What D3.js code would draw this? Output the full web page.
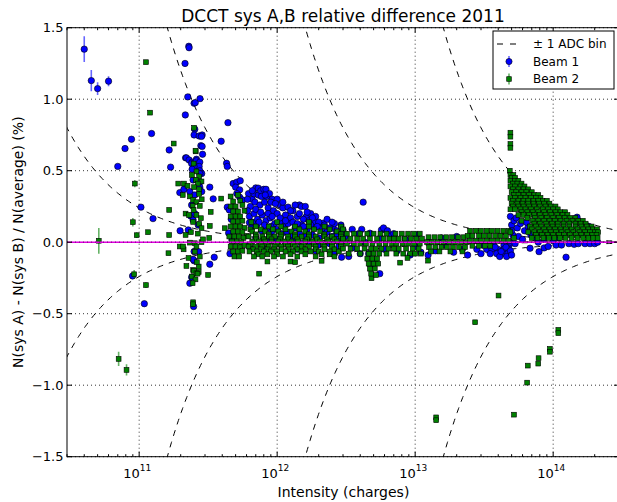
<!DOCTYPE html>
<html>
<head>
<meta charset="utf-8">
<script src="https://cdn.jsdelivr.net/npm/d3@7"></script>
<style>
body { margin: 0; background: #fff; }
text { font-family: "DejaVu Sans", sans-serif; fill: #000; }
</style>
</head>
<body>
<script>
// ADC bin size of each DCCT range, in charges (curve = +/- 100*bin/I)
var adcBins = [2.4e8, 2.4e9, 2.4e10, 2.4e11];

var xTicks = [1e11, 1e12, 1e13, 1e14];
var xTickExp = ['11', '12', '13', '14'];
var yTicks = [-1.5, -1.0, -0.5, 0.0, 0.5, 1.0, 1.5];

// [intensity (charges), relative difference (%), error (%)]
var b1Sparse = [
	[4.0e10,1.35,0.09],[4.5e10,1.13,0.075],[5.0e10,1.074,0.045],[6.0e10,1.126,0.035],
	[7.0e10,0.53],[7.9e10,0.655],[8.8e10,0.72],[8.96e10,-0.236],[1.03e11,0.245],[1.09e11,-0.43],
	[1.23e11,0.76],[1.26e11,0.165],[1.65e11,0.645],[1.69e11,0.525],[1.97e11,0.347],[1.98e11,0.08],
	[3.25e11,0.385],[3.44e11,0.303],[3.5e11,-0.105],[3.25e11,-0.154],[3.93e11,0.706],[4.3e11,0.552],
	[4.35e11,0.53],[4.4e11,0.836],[4.2e12,0.28]
];
var b1Blob = [
	[2.15e11,1.25],[2.29e11,1.37],[2.3e11,1.36],[2.16e11,0.89],[2.25e11,1.016],[2.5e11,0.972],[2.55e11,0.976],[2.76e11,1.004],
	[2.53e11,0.79],[2.5e11,0.75],[2.72e11,0.743],[2.86e11,0.75],[2.83e11,0.74],[2.8e11,0.675],[2.86e11,0.67],[2.88e11,0.615],
	[2.17e11,0.59],[2.2e11,0.59],[2.3e11,0.575],[2.42e11,0.56],[2.4e11,0.55],[2.6e11,0.58],[2.6e11,0.57],[2.75e11,0.56],
	[2.72e11,0.53],[2.5e11,0.53],[2.42e11,0.51],[2.75e11,0.5],[2.84e11,0.48],[2.75e11,0.48],[2.46e11,0.435],[2.75e11,0.42],
	[2.84e11,0.354],[2.11e11,0.37],[2.33e11,0.354],[2.53e11,0.33],[2.75e11,0.385],[2.4e11,0.26],[2.36e11,0.184],[2.53e11,0.2],
	[2.46e11,0.155],[2.68e11,0.12],[2.27e11,0.086],[2.33e11,-0.287],[2.4e11,-0.245],[2.48e11,-0.45],[2.5e11,-0.065],
	[2.5e11,-0.13],[2.7e11,-0.066],[2.46e11,-0.12]
];
var b1Mid = [
	[4.8e11,0.41],[5.1e11,0.42],[5.4e11,0.43],[5.0e11,0.385],[5.35e11,0.366],[5.1e11,0.34],[5.35e11,0.315],[5.6e11,0.296],
	[4.35e11,0.245],[4.5e11,0.226],[4.65e11,0.16],[6.3e11,0.137],[6.27e11,-0.026],[4.55e11,-0.08],[4.45e11,0.065],[4.7e11,0.016],
	[6.2e11,0.34],[6.6e11,0.3],[6.8e11,0.338],[7.0e11,0.38],[7.3e11,0.378],[7.3e11,0.33],[7.6e11,0.36],[8.0e11,0.37],
	[8.3e11,0.37],[8.4e11,0.32],[8.8e11,0.34],[9.2e11,0.3],[1.0e12,0.3],[1.05e12,0.26],[1.1e12,0.24],[1.2e12,0.245],
	[1.3e12,0.22],[1.45e12,0.26],[1.5e12,0.25],[1.6e12,0.25],[1.6e12,0.168],[1.63e12,0.18],[1.75e12,0.2],[1.87e12,0.144],
	[1.9e12,0.18],[2.15e12,0.133],[6.4e11,0.25],[6.9e11,0.28],[7.5e11,0.26],[8.1e11,0.28],[8.6e11,0.24],[9.4e11,0.22],
	[1.0e12,0.2],[1.15e12,0.19],[1.25e12,0.17],[1.4e12,0.18],[1.55e12,0.16],[1.7e12,0.15],[2.0e12,0.14],[2.3e12,0.16],
	[2.55e12,0.098],[2.6e12,0.13],[2.9e12,0.12],[3.0e12,0.086],[3.5e12,0.09],[4.1e12,0.09],[4.7e12,0.063],[5.7e12,0.086],
	[1.02e13,0.051],[6.3e11,0.18],[6.8e11,0.2],[7.2e11,0.16],[7.8e11,0.19],[8.3e11,0.15],[8.9e11,0.17],[9.6e11,0.13],
	[1.05e12,0.14],[1.12e12,0.11],[1.2e12,0.13],[1.35e12,0.1],[1.5e12,0.12],[1.65e12,0.09],[1.85e12,0.1],[2.1e12,0.09],
	[2.4e12,0.1],[2.7e12,0.08],[6.5e11,0.1],[7.1e11,0.12],[7.7e11,0.08],[8.5e11,0.1],[9.1e11,0.07],[9.9e11,0.09],
	[1.08e12,0.06],[1.18e12,0.07],[1.3e12,0.05],[1.45e12,0.06],[1.6e12,0.04],[1.8e12,0.05],[2.0e12,0.03],[2.2e12,0.05],
	[2.5e12,0.04],[2.8e12,0.03],[7.0e11,0.03],[8.0e11,0.02],[9.0e11,0.01],[1.0e12,0.02],[1.15e12,0.0],[1.3e12,0.01],
	[1.5e12,-0.01],[1.7e12,0.0],[2.0e12,-0.02],[2.4e12,-0.01],[2.8e12,-0.03],[1.4e12,-0.05],[1.9e12,-0.06],[2.6e12,-0.08],
	[2.93e12,-0.105],[8.0e11,-0.04],
	[6.1e11,0.3],[6.6e11,0.36],[7.7e11,0.32],[8.2e11,0.33],[9.0e11,0.28],[9.7e11,0.27],[1.1e12,0.28],[1.25e12,0.22],
	[1.35e12,0.26],[1.45e12,0.2],[1.65e12,0.21],[1.8e12,0.17],[2.2e12,0.12],[2.5e12,0.14],[7.0e11,0.23],[7.6e11,0.21],
	[8.6e11,0.2],[9.2e11,0.18],[1.05e12,0.17],[1.15e12,0.15],[1.3e12,0.14],[1.4e12,0.13],[1.55e12,0.11],[1.75e12,0.12],
	[1.95e12,0.11],[2.3e12,0.07],[2.7e12,0.06],[6.6e11,0.14],[7.4e11,0.14],[8.1e11,0.12],[9.0e11,0.11],[6.1e11,0.22]
];
var b1Band = [
	[3.1e12,0.04],[3.5e12,-0.04],[3.9e12,0.06],[4.3e12,0.0],[4.6e12,-0.08],[4.8e12,-0.16],[5.1e12,-0.14],[5.54e12,-0.22],
	[5.6e12,0.03],[6.0e12,-0.05],[6.6e12,0.05],[4.0e12,-0.08],[3.3e12,-0.1],[5.9e12,0.1],[6.3e12,0.08],[7.0e12,0.06],
	[7.4e12,-0.06],[8.5e12,0.02],[9.2e12,-0.09],[1.0e13,-0.03],[1.1e13,-0.07],[1.24e13,-0.09],[1.4e13,-0.06],[1.65e13,-0.02],
	[1.9e13,-0.07],[2.2e13,-0.05],[2.0e13,0.04],[1.55e13,0.03],[2.4e13,-0.09],[3.1e13,-0.02],[3.7e13,-0.02],[4.4e13,-0.02],
	[4.8e13,-0.02],[2.8e13,-0.05],[3.3e13,-0.05],[3.6e13,-0.05],[4.0e13,-0.05],[4.4e13,-0.05],[4.75e13,-0.05],[3.0e13,-0.08],
	[3.5e13,-0.08],[3.9e13,-0.08],[4.3e13,-0.08],[4.7e13,-0.08],[4.1e13,-0.1],[4.6e13,-0.1],[3.8e13,-0.035],[4.2e13,-0.065],
	[4.55e13,-0.035]
];
var b1High = [
	[4.9e13,0.18],[5.0e13,0.12],[5.2e13,0.15],[5.5e13,0.1],[5.8e13,0.13],[6.2e13,0.08],[6.6e13,0.11],[5.1e13,0.05],
	[5.6e13,0.04],[6.0e13,0.02],[6.9e13,0.05],[7.4e13,0.03],[8.0e13,0.06],[8.6e13,0.02],[9.3e13,0.04],[1.0e14,0.01],
	[1.1e14,0.03],[4.9e13,0.0],[5.3e13,-0.01],[7.8e13,0.0],[5.0e13,0.08],[5.4e13,0.17],[6.4e13,0.14],[4.9e13,-0.06],
	[5.0e13,-0.09],[1.49e14,0.175],[1.82e14,0.11],[2.05e14,0.07],[6.8e13,-0.042],[7.9e13,-0.066],[8.6e13,-0.04],
	[9.2e13,-0.03],[1.05e14,-0.02],[1.15e14,-0.02],[1.24e14,-0.105],[1.3e14,-0.01],[1.42e14,-0.015],[1.52e14,-0.01],
	[1.7e14,-0.01],[1.85e14,-0.01],[2.0e14,-0.01],[2.1e14,0.0]
];

var b2Sparse = [
	[5.1e10,0.01,0.09],[7.1e10,-0.816,0.05],[8.1e10,-0.893,0.04],[9.0e10,0.14,0.03],[9.2e10,-0.224,0.03],[9.3e10,0.41,0.025],
	[9.6e10,0.049,0.02],[1.12e11,1.259,0.015],[1.12e11,-0.3,0.02],[1.16e11,0.07,0.015],[1.2e11,0.906,0.01],[1.63e11,-0.077],
	[1.65e11,0.05],[1.65e11,0.226],[1.78e11,0.69],[1.92e11,0.41],[1.97e11,-0.03],[2.1e11,-0.05],[3.16e11,-0.229],
	[3.3e11,0.212],[3.25e11,0.114],[3.22e11,0.03],[3.93e11,0.305],[4.17e11,0.098],[6.0e11,0.044],[7.4e11,-0.22],
	[4.02e13,-0.373],[2.72e13,-0.56],[1.42e13,-1.225],[1.42e13,-1.245],[5.2e13,-1.206],[6.55e13,-0.863],[6.48e13,-0.982],
	[7.84e13,-0.811],[7.8e13,-0.849],[9.46e13,-0.746],[9.46e13,-0.766],[1.09e14,-0.613],[1.09e14,-0.636],[4.83e12,-0.252],
	[7.78e12,-0.143],[1.24e13,-0.129],[4.9e13,0.766],[4.9e13,0.738],[4.9e13,0.687],[4.9e13,0.66]
];
var b2Blob = [
	[2.5e11,0.8],[2.57e11,0.635],[2.56e11,0.64],[2.48e11,0.55],[2.6e11,0.495],[2.72e11,0.46],[2.57e11,0.435],[2.83e11,0.425],
	[2.41e11,0.47],[2.66e11,0.41],[2.11e11,0.41],[2.24e11,0.395],[2.5e11,0.385],[2.72e11,0.37],[2.07e11,0.33],[2.33e11,0.32],
	[2.46e11,0.296],[2.72e11,0.338],[2.84e11,0.3],[2.6e11,0.28],[2.44e11,0.254],[2.75e11,0.254],[2.17e11,0.2],[2.48e11,0.226],
	[2.6e11,0.19],[2.3e11,0.19],[2.8e11,0.168],[2.46e11,0.142],[2.72e11,0.128],[2.83e11,0.098],[2.37e11,0.07],[2.66e11,0.06],
	[2.17e11,0.051],[2.33e11,-0.003],[2.53e11,-0.007],[2.83e11,0.0],[2.08e11,-0.03],[2.6e11,-0.03],[2.53e11,-0.066],
	[2.28e11,-0.11],[2.75e11,-0.1],[2.2e11,-0.166],[2.46e11,-0.194],[2.7e11,-0.17],[2.7e11,-0.208],[2.41e11,-0.24],
	[2.5e11,-0.2],[2.6e11,-0.217],[2.56e11,-0.26],[2.65e11,-0.22],[2.62e11,-0.14],[2.44e11,-0.287],[2.46e11,-0.42],
	[2.46e11,-0.434],[2.9e11,0.02]
];
var b2Column = [
	[4.6e11,0.32],[5.2e11,0.33],[4.8e11,0.285],[5.4e11,0.29],[4.6e11,0.25],[5.0e11,0.25],[5.6e11,0.26],[4.8e11,0.215],
	[5.2e11,0.215],[5.8e11,0.22],[4.6e11,0.18],[5.0e11,0.18],[5.4e11,0.18],[4.8e11,0.145],[5.2e11,0.145],[5.6e11,0.15],
	[4.6e11,0.11],[5.0e11,0.11],[5.4e11,0.11],[5.8e11,0.1],[4.8e11,0.075],[5.2e11,0.075],[5.6e11,0.07],[4.5e11,0.04],
	[4.9e11,0.04],[5.3e11,0.04],[5.7e11,0.03],[4.7e11,0.005],[5.1e11,0.005],[5.5e11,0.0],[4.6e11,-0.03],[5.0e11,-0.03],
	[5.4e11,-0.035],[5.8e11,-0.02],[4.8e11,-0.065],[5.2e11,-0.065],[5.6e11,-0.06],[4.9e11,-0.1],[5.3e11,-0.1]
];
var b2Band1 = [
	[6.5e11,0.14],[1.0e12,0.14],[1.7e12,0.14],
	[7.0e11,0.11],[8.7e11,0.11],[1.07e12,0.11],[1.35e12,0.11],[1.7e12,0.11],[2.2e12,0.11],[2.9e12,0.11],
	[6.4e11,0.09],[7.6e11,0.09],[9.3e11,0.09],[1.15e12,0.09],[1.45e12,0.09],[1.85e12,0.09],[2.4e12,0.09],[3.0e12,0.09],
	[6.6e11,0.075],[8.2e11,0.075],[1.02e12,0.075],[1.27e12,0.075],[1.6e12,0.075],[2.05e12,0.075],[2.7e12,0.075],
	[7.0e11,0.055],[8.7e11,0.055],[1.07e12,0.055],[1.35e12,0.055],[1.7e12,0.055],[2.2e12,0.055],[2.9e12,0.055],
	[6.2e11,0.04],[7.0e11,0.04],[7.8e11,0.04],[8.7e11,0.04],[9.6e11,0.04],[1.07e12,0.04],[1.2e12,0.04],[1.35e12,0.04],
	[1.5e12,0.04],[1.7e12,0.04],[1.9e12,0.04],[2.2e12,0.04],[2.5e12,0.04],[2.9e12,0.04],
	[7.0e11,0.02],[8.0e11,0.02],[9.1e11,0.02],[1.05e12,0.02],[1.2e12,0.02],[1.4e12,0.02],[1.65e12,0.02],[1.95e12,0.02],
	[2.3e12,0.02],[2.6e12,0.02],[3.0e12,0.02],
	[6.6e11,0.005],[7.4e11,0.005],[8.2e11,0.005],[9.1e11,0.005],[1.02e12,0.005],[1.13e12,0.005],[1.27e12,0.005],
	[1.42e12,0.005],[1.6e12,0.005],[1.8e12,0.005],[2.05e12,0.005],[2.35e12,0.005],[2.7e12,0.005],[3.1e12,0.005],
	[6.4e11,-0.015],[7.6e11,-0.015],[8.5e11,-0.015],[1.0e12,-0.015],[1.15e12,-0.015],[1.3e12,-0.015],[1.55e12,-0.015],
	[1.85e12,-0.015],[2.15e12,-0.015],[2.5e12,-0.015],[2.9e12,-0.015],
	[6.2e11,-0.03],[7.0e11,-0.03],[7.8e11,-0.03],[8.7e11,-0.03],[9.6e11,-0.03],[1.07e12,-0.03],[1.2e12,-0.03],[1.35e12,-0.03],
	[1.5e12,-0.03],[1.7e12,-0.03],[1.9e12,-0.03],[2.2e12,-0.03],[2.5e12,-0.03],[2.9e12,-0.03],
	[6.7e11,-0.05],[7.6e11,-0.05],[8.5e11,-0.05],[9.5e11,-0.05],[1.08e12,-0.05],[1.22e12,-0.05],[1.4e12,-0.05],
	[1.6e12,-0.05],[1.9e12,-0.05],[2.2e12,-0.05],[2.6e12,-0.05],
	[6.3e11,-0.065],[7.1e11,-0.065],[8.0e11,-0.065],[9.0e11,-0.065],[1.0e12,-0.065],[1.15e12,-0.065],[1.3e12,-0.065],
	[1.5e12,-0.065],[1.75e12,-0.065],[2.0e12,-0.065],[2.4e12,-0.065],[2.8e12,-0.065],
	[7.3e11,-0.085],[8.5e11,-0.085],[1.0e12,-0.085],[1.25e12,-0.085],[1.6e12,-0.085],[2.1e12,-0.085],[2.4e12,-0.085],
	[6.8e11,-0.1],[7.8e11,-0.1],[9.5e11,-0.1],[1.1e12,-0.1],[1.4e12,-0.1],[1.9e12,-0.1],[2.6e12,-0.1],
	[8.5e11,-0.135],[1.25e12,-0.135],[1.35e12,-0.14],[2.1e12,-0.13]
];
var b2Band2 = [
	[3.2e12,0.06],[3.6e12,0.06],[4.0e12,0.06],[4.5e12,0.06],[5.0e12,0.06],[5.6e12,0.06],[6.2e12,0.06],[7.2e12,0.06],
	[8.0e12,0.06],[8.9e12,0.06],[9.8e12,0.06],[1.08e13,0.06],
	[3.0e12,0.025],[3.4e12,0.025],[3.8e12,0.025],[4.2e12,0.025],[4.7e12,0.025],[5.3e12,0.025],[5.9e12,0.025],[6.5e12,0.025],
	[7.0e12,0.025],[7.6e12,0.025],[8.4e12,0.025],[9.3e12,0.025],[1.02e13,0.025],[1.12e13,0.025],
	[3.2e12,-0.01],[3.6e12,-0.01],[4.0e12,-0.01],[4.4e12,-0.01],[4.9e12,-0.01],[5.5e12,-0.01],[6.1e12,-0.01],[6.8e12,-0.01],
	[7.3e12,-0.01],[8.1e12,-0.01],[8.9e12,-0.01],[9.8e12,-0.01],[1.08e13,-0.01],
	[3.0e12,-0.045],[3.4e12,-0.045],[3.8e12,-0.045],[4.3e12,-0.045],[4.8e12,-0.045],[5.2e12,-0.045],[5.7e12,-0.045],
	[6.4e12,-0.045],[7.0e12,-0.045],[7.6e12,-0.045],[8.6e12,-0.045],[9.6e12,-0.045],[1.06e13,-0.045],
	[3.3e12,-0.08],[4.0e12,-0.08],[4.6e12,-0.08],[5.0e12,-0.08],[5.5e12,-0.08],[6.2e12,-0.08],[7.3e12,-0.08],[8.2e12,-0.08],
	[9.2e12,-0.08],[1.0e13,-0.08],[1.1e13,-0.08],
	[4.5e12,-0.115],[4.9e12,-0.115],[5.3e12,-0.115],[8.8e12,-0.11],[4.6e12,-0.15],[5.0e12,-0.15],[5.4e12,-0.15],
	[4.7e12,-0.185],[5.1e12,-0.185],[4.8e12,-0.22],[5.2e12,-0.23]
];
var b2Band3 = [
	[1.25e13,0.035],[1.38e13,0.035],[1.52e13,0.035],[1.68e13,0.035],[1.85e13,0.035],[2.05e13,0.035],[2.25e13,0.035],
	[1.22e13,0.0],[1.32e13,0.0],[1.45e13,0.0],[1.6e13,0.0],[1.76e13,0.0],[1.95e13,0.0],[2.15e13,0.0],[2.38e13,0.0],
	[1.26e13,-0.035],[1.4e13,-0.035],[1.55e13,-0.035],[1.7e13,-0.035],[1.88e13,-0.035],[2.08e13,-0.035],[2.3e13,-0.035],
	[1.3e13,-0.065],[1.5e13,-0.065],[1.8e13,-0.065],[2.2e13,-0.065],
	[2.5e13,0.08],[2.75e13,0.08],[3.0e13,0.08],[3.3e13,0.08],[3.6e13,0.08],[3.95e13,0.08],[4.35e13,0.08],[4.75e13,0.08],
	[2.4e13,0.045],[2.6e13,0.045],[2.9e13,0.045],[3.15e13,0.045],[3.45e13,0.045],[3.8e13,0.045],[4.15e13,0.045],[4.55e13,0.045],
	[2.5e13,0.01],[2.75e13,0.01],[3.0e13,0.01],[3.3e13,0.01],[3.6e13,0.01],[3.95e13,0.01],[4.35e13,0.01],[4.75e13,0.01],
	[2.6e13,-0.025],[2.9e13,-0.025],[3.2e13,-0.025],[3.5e13,-0.025]
];
var b2High = [
	[4.85e13,0.5],[4.9e13,0.47],[5.15e13,0.47],[5.0e13,0.45],[5.3e13,0.45],[4.9e13,0.43],[5.3e13,0.43],[5.6e13,0.43],
	[5.1e13,0.41],[5.5e13,0.41],[5.9e13,0.41],
	[4.9e13,0.39],[5.3e13,0.39],[5.8e13,0.39],[6.2e13,0.39],[5.1e13,0.37],[5.6e13,0.37],[6.1e13,0.37],[6.6e13,0.37],
	[5.0e13,0.35],[5.4e13,0.35],[5.9e13,0.35],[6.4e13,0.35],[7.0e13,0.35],
	[5.2e13,0.33],[5.6e13,0.33],[6.1e13,0.33],[6.7e13,0.33],[7.3e13,0.33],[7.8e13,0.33],
	[4.9e13,0.31],[5.3e13,0.31],[5.8e13,0.31],[6.3e13,0.31],[6.9e13,0.31],[7.5e13,0.31],[8.1e13,0.31],
	[5.1e13,0.29],[5.6e13,0.29],[6.1e13,0.29],[6.6e13,0.29],[7.2e13,0.29],[7.8e13,0.29],[8.4e13,0.29],[9.0e13,0.29],
	[5.0e13,0.27],[5.5e13,0.27],[6.0e13,0.27],[6.6e13,0.27],[7.2e13,0.27],[7.9e13,0.27],[8.6e13,0.27],[9.4e13,0.27],
	[5.1e13,0.25],[5.6e13,0.25],[6.1e13,0.25],[6.7e13,0.25],[7.3e13,0.25],[8.0e13,0.25],[8.8e13,0.25],[9.6e13,0.25],
	[1.04e14,0.25],
	[4.9e13,0.23],[5.3e13,0.23],[5.8e13,0.23],[6.3e13,0.23],[6.9e13,0.23],[7.6e13,0.23],[8.4e13,0.23],[9.2e13,0.23],
	[1.0e14,0.23],[1.08e14,0.23],
	[5.9e13,0.21],[6.5e13,0.21],[7.1e13,0.21],[7.8e13,0.21],[8.6e13,0.21],[9.5e13,0.21],[1.04e14,0.21],[1.13e14,0.21],
	[1.22e14,0.21],
	[5.6e13,0.19],[6.1e13,0.19],[6.7e13,0.19],[7.3e13,0.19],[8.0e13,0.19],[8.8e13,0.19],[9.7e13,0.19],[1.07e14,0.19],
	[1.17e14,0.19],[1.27e14,0.19],
	[6.5e13,0.17],[7.4e13,0.17],[8.2e13,0.17],[9.0e13,0.17],[1.0e14,0.17],[1.1e14,0.17],[1.21e14,0.17],[1.33e14,0.17],
	[1.45e14,0.17],
	[5.9e13,0.15],[7.1e13,0.15],[7.8e13,0.15],[8.6e13,0.15],[9.4e13,0.15],[1.03e14,0.15],[1.13e14,0.15],[1.25e14,0.15],
	[1.38e14,0.15],[1.52e14,0.15],[1.64e14,0.15],
	[7.3e13,0.13],[8.0e13,0.13],[8.9e13,0.13],[9.8e13,0.13],[1.08e14,0.13],[1.19e14,0.13],[1.31e14,0.13],[1.45e14,0.13],
	[1.58e14,0.13],[1.72e14,0.13],
	[6.8e13,0.11],[7.5e13,0.11],[8.2e13,0.11],[9.0e13,0.11],[9.9e13,0.11],[1.08e14,0.11],[1.19e14,0.11],[1.31e14,0.11],
	[1.45e14,0.11],[1.6e14,0.11],[1.75e14,0.11],[1.9e14,0.11],
	[7.0e13,0.09],[7.8e13,0.09],[8.6e13,0.09],[9.4e13,0.09],[1.03e14,0.09],[1.13e14,0.09],[1.24e14,0.09],[1.36e14,0.09],
	[1.5e14,0.09],[1.65e14,0.09],[1.8e14,0.09],[1.95e14,0.09],[2.08e14,0.09],
	[4.9e13,0.07],[6.6e13,0.07],[7.3e13,0.07],[8.0e13,0.07],[8.8e13,0.07],[9.6e13,0.07],[1.05e14,0.07],[1.15e14,0.07],
	[1.27e14,0.07],[1.4e14,0.07],[1.55e14,0.07],[1.7e14,0.07],[1.85e14,0.07],[2.0e14,0.07],[2.12e14,0.07],
	[7.5e13,0.05],[8.3e13,0.05],[9.1e13,0.05],[1.0e14,0.05],[1.1e14,0.05],[1.2e14,0.05],[1.32e14,0.05],[1.46e14,0.05],
	[1.6e14,0.05],[1.76e14,0.05],[1.92e14,0.05],[2.06e14,0.05],
	[5.2e13,0.03],[7.0e13,0.03],[7.7e13,0.03],[8.5e13,0.03],[9.3e13,0.03],[1.02e14,0.03],[1.12e14,0.03],[1.23e14,0.03],
	[1.36e14,0.03],[1.5e14,0.03],[1.65e14,0.03],[1.8e14,0.03],[1.95e14,0.03],[2.1e14,0.03]
];

var beam1 = [].concat(b1Sparse, b1Blob, b1Mid, b1Band, b1High);
var beam2 = [].concat(b2Sparse, b2Blob, b2Column, b2Band1, b2Band2, b2Band3, b2High);

var WIDTH = 617, HEIGHT = 502;
var LEFT = 67, RIGHT = 619, TOP = 27.7, BOTTOM = 456.7;

var x = d3.scaleLog().domain([3e10, 3e14]).range([LEFT, RIGHT]);
var y = d3.scaleLinear().domain([-1.5, 1.5]).range([BOTTOM, TOP]);

var svg = d3.select('body').append('svg')
	.attr('width', WIDTH)
	.attr('height', HEIGHT);

svg.append('rect').attr('width', WIDTH).attr('height', HEIGHT).attr('fill', '#fff');

svg.append('clipPath').attr('id', 'plotclip')
	.append('rect')
	.attr('x', LEFT).attr('y', TOP)
	.attr('width', RIGHT - LEFT).attr('height', BOTTOM - TOP);

// ------------------------ GRID ------------------------
var grid = svg.append('g').attr('stroke', '#000').attr('stroke-width', 0.8).attr('stroke-dasharray', '1,3');
grid.selectAll('.gx').data(xTicks).enter().append('line')
	.attr('x1', function(d) { return x(d); }).attr('x2', function(d) { return x(d); })
	.attr('y1', TOP).attr('y2', BOTTOM);
grid.selectAll('.gy').data(yTicks).enter().append('line')
	.attr('x1', LEFT).attr('x2', RIGHT)
	.attr('y1', function(d) { return y(d); }).attr('y2', function(d) { return y(d); });

var plot = svg.append('g').attr('clip-path', 'url(#plotclip)');

// ------------------------ ADC BIN CURVES ------------------------
var samples = d3.range(0, 401).map(function(i) { return Math.pow(10, 10.47 + i * 4.02 / 400); });
var curve = d3.line()
	.x(function(d) { return x(d[0]); })
	.y(function(d) { return y(Math.max(-3, Math.min(3, d[1]))); });

adcBins.forEach(function(bin) {
	[1, -1].forEach(function(sign) {
		plot.append('path')
			.datum(samples.map(function(I) { return [I, sign * 100 * bin / I]; }))
			.attr('d', curve)
			.attr('fill', 'none')
			.attr('stroke', '#000')
			.attr('stroke-width', 1)
			.attr('stroke-dasharray', '6,6');
	});
});

// ------------------------ POINTS ------------------------
function drawBeam(data, color, shape) {
	var g = plot.append('g');
	g.selectAll('line').data(data.filter(function(d) { return d[2]; })).enter().append('line')
		.attr('x1', function(d) { return x(d[0]); }).attr('x2', function(d) { return x(d[0]); })
		.attr('y1', function(d) { return y(d[1] - d[2]); }).attr('y2', function(d) { return y(d[1] + d[2]); })
		.attr('stroke', color).attr('stroke-width', 1.6).attr('stroke-opacity', 0.6);
	if (shape === 'circle') {
		g.selectAll('circle').data(data).enter().append('circle')
			.attr('cx', function(d) { return x(d[0]); })
			.attr('cy', function(d) { return y(d[1]); })
			.attr('r', 3.2)
			.attr('fill', color).attr('stroke', '#000').attr('stroke-width', 0.6);
	} else {
		g.selectAll('rect').data(data).enter().append('rect')
			.attr('x', function(d) { return x(d[0]) - 2.4; })
			.attr('y', function(d) { return y(d[1]) - 2.4; })
			.attr('width', 4.8).attr('height', 4.8)
			.attr('fill', color).attr('stroke', '#000').attr('stroke-width', 0.6);
	}
}
drawBeam(beam1, '#0000ff', 'circle');
drawBeam(beam2, '#008000', 'square');

// zero line
plot.append('line')
	.attr('x1', LEFT).attr('x2', RIGHT).attr('y1', y(0)).attr('y2', y(0))
	.attr('stroke', '#dd00dd').attr('stroke-width', 1.6);
plot.append('line')
	.attr('x1', LEFT).attr('x2', RIGHT).attr('y1', y(0)).attr('y2', y(0))
	.attr('stroke', '#000').attr('stroke-opacity', 0.5).attr('stroke-width', 0.8).attr('stroke-dasharray', '1,3');

// ------------------------ AXES ------------------------
svg.append('rect')
	.attr('x', LEFT).attr('y', TOP).attr('width', RIGHT - LEFT).attr('height', BOTTOM - TOP)
	.attr('fill', 'none').attr('stroke', '#000').attr('stroke-width', 1);

var minorX = [];
[1e10, 1e11, 1e12, 1e13, 1e14].forEach(function(dec) {
	for (var k = 2; k < 10; k++) {
		var v = dec * k;
		if (v >= 3e10 && v <= 3e14) minorX.push(v);
	}
});
var ticks = svg.append('g').attr('stroke', '#000').attr('stroke-width', 1);
function xTickMarks(vals, len) {
	vals.forEach(function(v) {
		ticks.append('line').attr('x1', x(v)).attr('x2', x(v)).attr('y1', BOTTOM).attr('y2', BOTTOM - len);
		ticks.append('line').attr('x1', x(v)).attr('x2', x(v)).attr('y1', TOP).attr('y2', TOP + len);
	});
}
xTickMarks(xTicks, 5);
xTickMarks(minorX, 2.5);
yTicks.forEach(function(v) {
	ticks.append('line').attr('x1', LEFT).attr('x2', LEFT + 5).attr('y1', y(v)).attr('y2', y(v));
	ticks.append('line').attr('x1', RIGHT).attr('x2', RIGHT - 5).attr('y1', y(v)).attr('y2', y(v));
});

// tick labels
xTicks.forEach(function(v, i) {
	var t = svg.append('text')
		.attr('x', x(v) - 2).attr('y', 477.7)
		.attr('text-anchor', 'middle')
		.style('font-size', '13px')
		.text('10');
	t.append('tspan').attr('dy', -6.5).style('font-size', '9px').text(xTickExp[i]);
});
yTicks.forEach(function(v) {
	svg.append('text')
		.attr('x', 63.5).attr('y', y(v) + 4.7)
		.attr('text-anchor', 'end')
		.style('font-size', '13px')
		.text(d3.format('.1f')(v).replace('-', '\u2212'));
});

// ------------------------ TITLES ------------------------
svg.append('text')
	.attr('x', 343).attr('y', 22)
	.attr('text-anchor', 'middle')
	.style('font-size', '17px')
	.text('DCCT sys A,B relative difference 2011');

svg.append('text')
	.attr('x', 343.5).attr('y', 496.5)
	.attr('text-anchor', 'middle')
	.style('font-size', '14px')
	.text('Intensity (charges)');

svg.append('text')
	.attr('transform', 'translate(22.5,242.2) rotate(-90)')
	.attr('text-anchor', 'middle')
	.style('font-size', '14px')
	.text('N(sys A) - N(sys B) / N(average) (%)');

// ------------------------ LEGEND ------------------------
var legend = svg.append('g');
legend.append('rect')
	.attr('x', 493).attr('y', 31).attr('width', 121).attr('height', 58)
	.attr('fill', '#fff').attr('stroke', '#000').attr('stroke-width', 1);
legend.append('line')
	.attr('x1', 497).attr('x2', 518).attr('y1', 44).attr('y2', 44)
	.attr('stroke', '#000').attr('stroke-width', 1.2).attr('stroke-dasharray', '6,7');
legend.append('line')
	.attr('x1', 509).attr('x2', 509).attr('y1', 56).attr('y2', 67)
	.attr('stroke', '#0000ff').attr('stroke-width', 1.6).attr('stroke-opacity', 0.6);
legend.append('circle')
	.attr('cx', 509).attr('cy', 61.5).attr('r', 3.1)
	.attr('fill', '#0000ff').attr('stroke', '#000').attr('stroke-width', 0.6);
legend.append('line')
	.attr('x1', 509).attr('x2', 509).attr('y1', 73.5).attr('y2', 84.5)
	.attr('stroke', '#008000').attr('stroke-width', 1.6).attr('stroke-opacity', 0.6);
legend.append('rect')
	.attr('x', 506.7).attr('y', 76.7).attr('width', 4.6).attr('height', 4.6)
	.attr('fill', '#008000').attr('stroke', '#000').attr('stroke-width', 0.6);
[['\u00b1 1 ADC bin', 48], ['Beam 1', 65.5], ['Beam 2', 83]].forEach(function(e) {
	legend.append('text')
		.attr('x', 533).attr('y', e[1])
		.style('font-size', '12px')
		.text(e[0]);
});
</script>
</body>
</html>
